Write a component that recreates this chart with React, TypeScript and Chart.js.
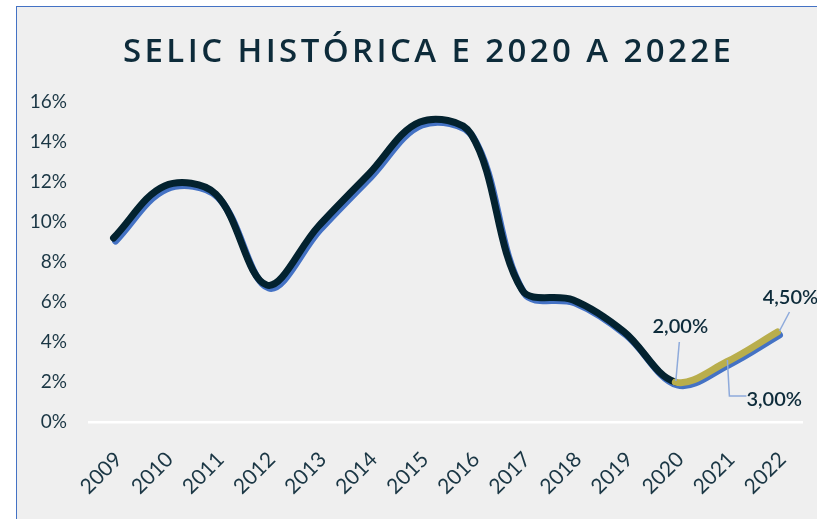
import { useEffect, useRef } from 'react';
import { Chart, registerables } from 'chart.js';

Chart.register(...registerables);

const titleText = 'SELIC HISTÓRICA E 2020 A 2022E';
const years = ['2009', '2010', '2011', '2012', '2013', '2014', '2015', '2016', '2017', '2018', '2019', '2020', '2021', '2022'];
const selicHistorica = [9.2, 11.8, 11.4, 6.85, 9.75, 12.4, 15.0, 14.4, 6.6, 6.1, 4.5, 2.0, null, null];
const selicProjecao = [null, null, null, null, null, null, null, null, null, null, null, 2.0, 3.0, 4.5];
const yTickValues = [0, 2, 4, 6, 8, 10, 12, 14, 16];
const annotationYears = ['2020', '2021', '2022'];
const annotationValues = [2.0, 3.0, 4.5];
const annotationLabels = ['2,00%', '3,00%', '4,50%'];

const serieCompleta = selicHistorica.map((v, i) => (v !== null ? v : selicProjecao[i]));
const lastHistIndex = selicHistorica.reduce((acc: number, v, i) => (v !== null ? i : acc), 0);

const W = 830;
const H = 540;
const NAVY = '#03222f';
const TEXT = '#0d2b3a';
const TICK = '#1a3644';
const BLUE = '#4472c4';
const GOLD = '#b9ae4c';
const LEADER = '#8eaadb';
const CLEAR = 'rgba(0,0,0,0)';

export default function App() {
  const ref = useRef<HTMLCanvasElement | null>(null);

  useEffect(() => {
    const canvas = ref.current;
    if (!canvas) return;

    const shadowPlugin = {
      id: 'shadowOffset',
      beforeDatasetDraw(chart: any, args: any) {
        if (args.index === 2) {
          chart.ctx.save();
          chart.ctx.translate(2, 3);
        }
      },
      afterDatasetDraw(chart: any, args: any) {
        if (args.index === 2) chart.ctx.restore();
      },
    };

    const titlePlugin = {
      id: 'spacedTitle',
      afterDraw(chart: any) {
        const ctx = chart.ctx;
        ctx.save();
        ctx.font = '600 33px "Open Sans"';
        ctx.fillStyle = TEXT;
        ctx.textBaseline = 'alphabetic';
        ctx.textAlign = 'left';
        const chars = Array.from(titleText);
        const base = chars.reduce((s, c) => s + ctx.measureText(c).width, 0);
        const target = 608;
        const sp = (target - base) / (chars.length - 1);
        let x = 106;
        for (const c of chars) {
          ctx.fillText(c, x, 55);
          x += ctx.measureText(c).width + sp;
        }
        ctx.restore();
      },
    };

    const annotationPlugin = {
      id: 'pointLabels',
      afterDatasetsDraw(chart: any) {
        const ctx = chart.ctx;
        const xs = chart.scales.x;
        const ys = chart.scales.y;
        const pts = annotationYears.map((yr, i) => ({
          x: xs.getPixelForValue(years.indexOf(yr)),
          y: ys.getPixelForValue(annotationValues[i]),
        }));
        ctx.save();
        ctx.strokeStyle = LEADER;
        ctx.lineWidth = 1.5;
        ctx.beginPath();
        ctx.moveTo(pts[0].x + 4, pts[0].y - 40);
        ctx.lineTo(pts[0].x + 0.5, pts[0].y - 1);
        ctx.stroke();
        ctx.beginPath();
        ctx.moveTo(pts[1].x + 20, pts[1].y + 34);
        ctx.lineTo(pts[1].x + 3, pts[1].y + 34);
        ctx.lineTo(pts[1].x + 1, pts[1].y - 2);
        ctx.stroke();
        ctx.beginPath();
        ctx.moveTo(pts[2].x + 12, pts[2].y - 20);
        ctx.lineTo(pts[2].x + 2, pts[2].y - 1);
        ctx.stroke();

        ctx.fillStyle = TEXT;
        ctx.font = '600 20px Lato';
        ctx.textBaseline = 'middle';
        ctx.textAlign = 'center';
        ctx.fillText(annotationLabels[0], pts[0].x + 5, pts[0].y - 55);
        ctx.textAlign = 'left';
        ctx.fillText(annotationLabels[1], pts[1].x + 20, pts[1].y + 38);
        ctx.textAlign = 'center';
        ctx.fillText(annotationLabels[2], pts[2].x + 13, pts[2].y - 34);
        ctx.restore();
      },
    };

    const common = {
      data: serieCompleta,
      borderWidth: 7,
      pointRadius: 0,
      tension: 0.35,
      borderCapStyle: 'round',
      borderJoinStyle: 'round',
    };

    const chart = new Chart(canvas, {
      type: 'line',
      data: {
        labels: years,
        datasets: [
          {
            ...common,
            label: 'Projeção',
            borderColor: GOLD,
            segment: { borderColor: (c: any) => (c.p0DataIndex >= lastHistIndex ? GOLD : CLEAR) },
            order: 0,
          },
          {
            ...common,
            label: 'Histórica',
            borderColor: NAVY,
            segment: { borderColor: (c: any) => (c.p0DataIndex < lastHistIndex ? NAVY : CLEAR) },
            order: 1,
          },
          {
            ...common,
            label: 'Sombra',
            borderColor: BLUE,
            order: 2,
          },
        ],
      },
      options: {
        animation: false,
        responsive: false,
        devicePixelRatio: 1,
        layout: { padding: { top: 95, right: 44, left: 0, bottom: 0 } },
        plugins: { legend: { display: false }, tooltip: { enabled: false }, title: { display: false } },
        scales: {
          x: {
            offset: true,
            grid: { display: false },
            border: { display: false },
            ticks: {
              color: TICK,
              font: { family: 'Lato', size: 21, weight: '400' },
              minRotation: 45,
              maxRotation: 45,
              padding: 17,
              labelOffset: 5,
              autoSkip: false,
            },
            afterFit(scale: any) {
              scale.height = 125;
            },
          },
          y: {
            min: 0,
            max: 16,
            afterBuildTicks(scale: any) {
              scale.ticks = yTickValues.map((v) => ({ value: v }));
            },
            grid: {
              drawTicks: false,
              lineWidth: 2.5,
              color: (c: any) => (c.tick && c.tick.value === 0 ? '#ffffff' : CLEAR),
            },
            border: { display: false },
            ticks: {
              color: TICK,
              font: { family: 'Lato', size: 19, weight: '400' },
              padding: 21,
              callback: (v: any) => v + '%',
            },
            afterFit(scale: any) {
              scale.width = 71;
            },
          },
        },
      },
      plugins: [shadowPlugin, annotationPlugin, titlePlugin],
    } as any);

    return () => chart.destroy();
  }, []);

  return (
    <div style={{ position: 'fixed', left: 0, top: 0, width: 817, height: 519, overflow: 'hidden', background: '#ffffff' }}>
      <div
        style={{
          position: 'absolute',
          left: 16,
          top: 6,
          width: W,
          height: H,
          border: '1px solid ' + BLUE,
          background: '#efefef',
        }}
      >
        <canvas ref={ref} width={W} height={H} style={{ display: 'block', width: W, height: H }} />
      </div>
    </div>
  );
}
